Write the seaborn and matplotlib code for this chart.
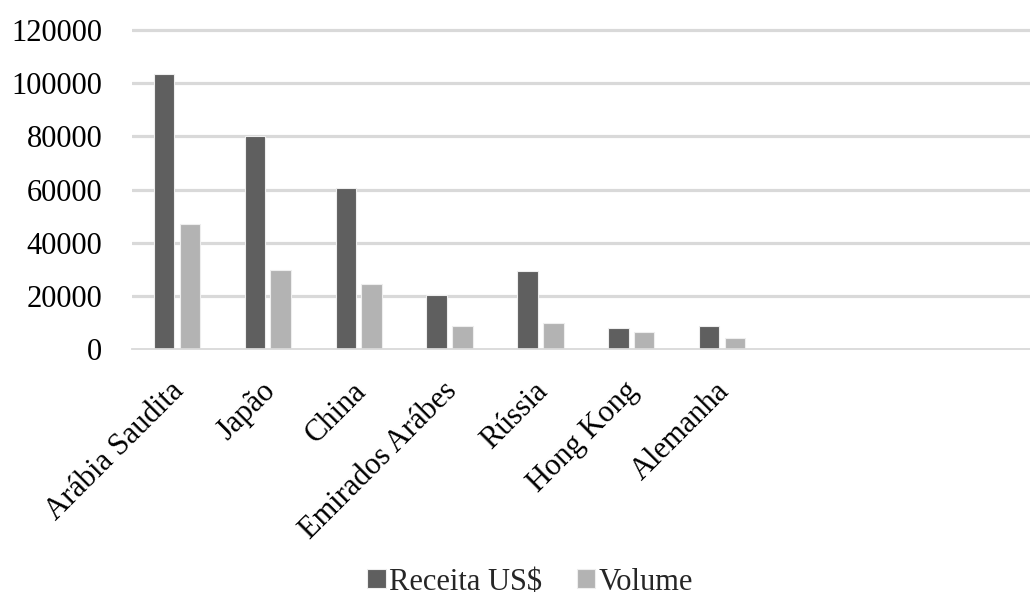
import matplotlib
matplotlib.use("Agg")
import matplotlib.pyplot as plt
import matplotlib.transforms as mtransforms
import seaborn as sns
import pandas as pd

# Export revenue and volume by destination country
paises = ["Arábia Saudita", "Japão", "China", "Emirados Arábes",
          "Rússia", "Hong Kong", "Alemanha"]
receita = [103400, 80100, 60500, 20300, 29400, 8000, 8800]
volume = [47000, 29900, 24700, 8800, 9900, 6600, 4300]
series = ["Receita US$", "Volume"]
yticks = [0, 20000, 40000, 60000, 80000, 100000, 120000]

df = pd.DataFrame({
    "pais": paises * 2,
    "valor": receita + volume,
    "serie": [series[0]] * len(paises) + [series[1]] * len(paises),
})

sns.set_theme(style="white")
plt.rcParams["font.family"] = ["Liberation Serif", "DejaVu Serif"]
plt.rcParams["font.size"] = 22

W, H = 1030, 606
fig = plt.figure(figsize=(W / 100, H / 100), dpi=100)

# axes box in pixel terms: x from category -0.5 to 9.5, y from 0 to 122000
x0, x1 = 131.6, 1040.0
y_zero, y_top = 349.3, 30.0
ymax = 122000
y_lim_px = y_zero - (y_zero - y_top) * ymax / 120000
ax = fig.add_axes([x0 / W, 1 - y_zero / H, (x1 - x0) / W, (y_zero - y_lim_px) / H])

sns.barplot(data=df, x="pais", y="valor", hue="serie", order=paises,
            hue_order=series, palette=["#5f5f5f", "#b3b3b3"],
            width=0.566, gap=0.2, edgecolor="#eeeeee", linewidth=0.8,
            saturation=1, ax=ax, legend=True)

ax.set_xlim(-0.5, 9.5)
ax.set_ylim(0, ymax)
ax.set_yticks(yticks)
ax.set_yticklabels([str(v) for v in yticks])
ax.set_xlabel("")
ax.set_ylabel("")

ax.set_axisbelow(True)
ax.yaxis.grid(True, color="#d9d9d9", linewidth=2.3)
ax.xaxis.grid(False)
ax.get_ygridlines()[0].set_visible(False)

for s in ["top", "right", "left"]:
    ax.spines[s].set_visible(False)
ax.spines["bottom"].set_color("#d9d9d9")
ax.spines["bottom"].set_linewidth(1.3)

ax.tick_params(axis="y", length=0, pad=21, labelsize=22, labelcolor="black")
ax.tick_params(axis="x", length=0, pad=27, labelsize=22, labelcolor="black")
shift = mtransforms.ScaledTranslation(3 / 100, 0, fig.dpi_scale_trans)
for lab in ax.get_xticklabels():
    lab.set_rotation(45)
    lab.set_ha("right")
    lab.set_va("center")
    lab.set_rotation_mode("anchor")
    lab.set_transform(lab.get_transform() + shift)

leg = ax.get_legend()
handles = leg.legend_handles
leg.remove()
fig.legend(handles, series, loc="center", bbox_to_anchor=(530 / W, 1 - 582 / H),
           ncol=2, frameon=False, fontsize=22, handlelength=0.6,
           handleheight=0.6, handletextpad=0.1, columnspacing=1.15)

fig.savefig("out.png", dpi=100)
